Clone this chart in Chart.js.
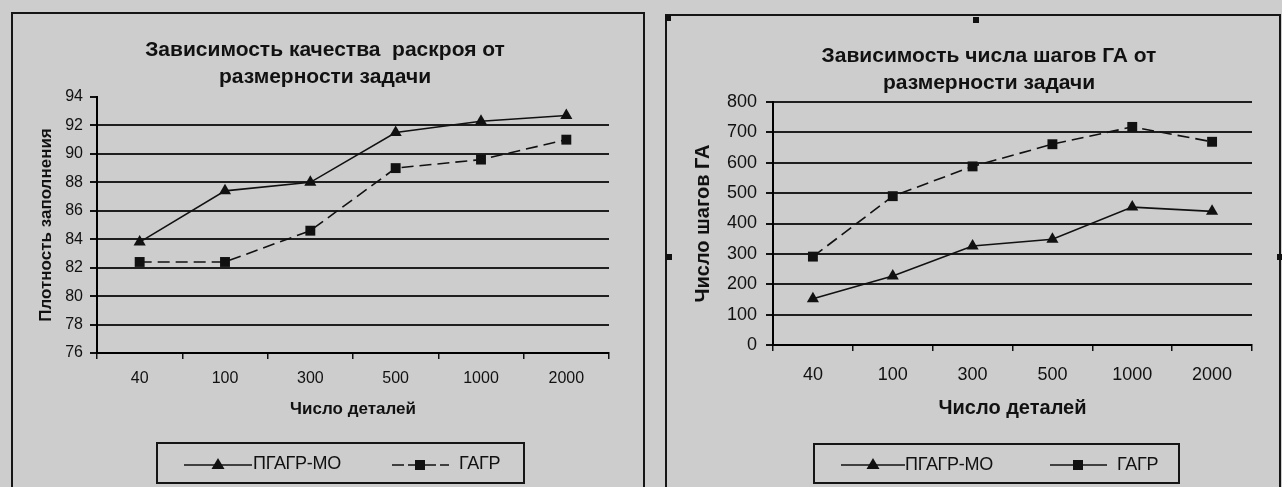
<!DOCTYPE html>
<html>
<head>
<meta charset="utf-8">
<script src="https://cdn.jsdelivr.net/npm/chart.js@4.4.1/dist/chart.umd.min.js"></script>
<style>
  body { margin: 0; width: 1282px; height: 487px; overflow: hidden; position: relative;
         background: #cdcdcd; font-family: "Liberation Sans", Arial, sans-serif; }
  .frame { position: absolute; border: 2px solid #151515; box-sizing: border-box; }
  .handle { position: absolute; width: 6px; height: 6px; background: #111; }
  canvas { position: absolute; }
  .legend { position: absolute; border: 2px solid #151515; box-sizing: border-box; }
  .legend svg, .legend span { position: absolute; }
  .legend span { font-size: 18px; line-height: 20px; color: #111; top: 9px; letter-spacing: -0.3px; }
</style>
</head>
<body>
<div class="frame" style="left:11px;top:12px;width:634px;height:490px"></div>
<div class="frame" style="left:665px;top:14px;width:616px;height:490px"></div>
<div class="handle" style="left:665px;top:15px"></div>
<div class="handle" style="left:973px;top:17px"></div>
<div class="handle" style="left:666px;top:254px"></div>
<div class="handle" style="left:1277px;top:254px"></div>

<canvas id="density" width="628" height="474" style="left:11px;top:13px"></canvas>
<canvas id="steps" width="648" height="473" style="left:665px;top:14px"></canvas>

<div class="legend" style="left:156px;top:442px;width:369px;height:42px">
  <svg style="left:26px;top:12px" width="68" height="16">
    <line x1="0" y1="9" x2="68" y2="9" stroke="#111" stroke-width="1.5"/>
    <polygon points="34,2 40.5,13 27.5,13" fill="#111"/>
  </svg>
  <span style="left:95px">ПГАГР-МО</span>
  <svg style="left:234px;top:12px" width="57" height="16">
    <line x1="0" y1="9" x2="57" y2="9" stroke="#111" stroke-width="1.5" stroke-dasharray="12,4"/>
    <rect x="23" y="4" width="10" height="10" fill="#111"/>
  </svg>
  <span style="left:301px">ГАГР</span>
</div>

<div class="legend" style="left:813px;top:443px;width:367px;height:41px">
  <svg style="left:26px;top:11px" width="64" height="16">
    <line x1="0" y1="9" x2="64" y2="9" stroke="#111" stroke-width="1.5"/>
    <polygon points="32,2 38.5,13 25.5,13" fill="#111"/>
  </svg>
  <span style="left:90px">ПГАГР-МО</span>
  <svg style="left:235px;top:11px" width="57" height="16">
    <line x1="0" y1="9" x2="57" y2="9" stroke="#111" stroke-width="1.5"/>
    <rect x="23" y="4" width="10" height="10" fill="#111"/>
  </svg>
  <span style="left:302px">ГАГР</span>
</div>

<script>
// Два графика: плотность заполнения и число шагов ГА от числа деталей
const parts = ['40', '100', '300', '500', '1000', '2000'];

// плотность заполнения, %
const densityPgagr = [83.8, 87.4, 88.0, 91.5, 92.3, 92.7];
const densityGagr = [82.4, 82.4, 84.6, 89.0, 89.6, 91.0];
const densityTicks = [76, 78, 80, 82, 84, 86, 88, 90, 92, 94];

// число шагов ГА
const stepsPgagr = [152, 227, 326, 348, 454, 440];
const stepsGagr = [291, 490, 588, 661, 718, 669];
const stepsTicks = [0, 100, 200, 300, 400, 500, 600, 700, 800];

const FONT = '"Liberation Sans", Arial, sans-serif';
const INK = '#111';

Chart.defaults.font.family = FONT;
Chart.defaults.color = INK;
Chart.defaults.animation = false;

function series(label, data, style, dashed) {
  return {
    label: label,
    data: data,
    borderColor: INK,
    backgroundColor: INK,
    borderWidth: 1.6,
    borderDash: dashed ? [12, 6] : [],
    pointStyle: style,
    pointRadius: 7,
    pointBorderWidth: 0,
    tension: 0
  };
}

// padLeft сдвигает заголовок диаграммы; ширина оси y компенсирует сдвиг
function makeChart(id, cfg) {
  return new Chart(document.getElementById(id), {
    type: 'line',
    data: {
      labels: parts,
      datasets: [
        series('ПГАГР-МО', cfg.pgagr, 'triangle', false),
        series('ГАГР', cfg.gagr, 'rect', true)
      ]
    },
    options: {
      responsive: false,
      layout: { padding: { left: cfg.padLeft, right: cfg.padRight, top: 0, bottom: cfg.padBottom } },
      plugins: {
        legend: { display: false },
        tooltip: { enabled: false },
        title: {
          display: true,
          text: cfg.title,
          color: INK,
          font: { size: 21, weight: 'bold', lineHeight: '27px' },
          padding: cfg.titlePad
        }
      },
      scales: {
        x: {
          offset: true,
          grid: { offset: true, drawOnChartArea: false, tickLength: 6, color: INK, lineWidth: 1.5 },
          border: { color: '#000', width: 2 },
          ticks: { font: { size: cfg.tickSize }, padding: cfg.xTickPad, maxRotation: 0 },
          title: { display: true, text: 'Число деталей', font: { size: cfg.xTitleSize, weight: 'bold' },
                   padding: { top: 0, bottom: cfg.xTitlePad } },
          afterFit: s => { s.height = cfg.xHeight; }
        },
        y: {
          min: cfg.ticks[0],
          max: cfg.ticks[cfg.ticks.length - 1],
          afterBuildTicks: s => { s.ticks = cfg.ticks.map(v => ({ value: v })); },
          grid: {
            color: c => (c.tick && c.tick.value === cfg.hideGridAt) ? 'rgba(0,0,0,0)' : '#1f1f1f',
            tickColor: INK,
            lineWidth: 2,
            tickLength: 7
          },
          border: { color: '#000', width: 2 },
          ticks: { font: { size: cfg.tickSize }, padding: cfg.yTickPad },
          title: { display: true, text: cfg.yTitle, font: { size: cfg.yTitleSize, weight: 'bold' },
                   padding: { top: cfg.yTitlePad, bottom: 0 } },
          afterFit: s => { s.width = cfg.yWidth; }
        }
      }
    }
  });
}

makeChart('density', {
  pgagr: densityPgagr,
  gagr: densityGagr,
  ticks: densityTicks,
  hideGridAt: 94,
  title: ['Зависимость качества  раскроя от', 'размерности задачи'],
  titlePad: { top: 23.5, bottom: 6.5 },
  tickSize: 16,
  yTitle: 'Плотность заполнения',
  yTitleSize: 17,
  yTitlePad: -5,
  yWidth: 56,
  yTickPad: 7,
  xTitleSize: 17,
  xHeight: 70,
  xTickPad: 10,
  xTitlePad: 3,
  padLeft: 30,
  padRight: 30,
  padBottom: 64
});

makeChart('steps', {
  pgagr: stepsPgagr,
  gagr: stepsGagr,
  ticks: stepsTicks,
  hideGridAt: null,
  title: ['Зависимость числа шагов ГА от', 'размерности задачи'],
  titlePad: { top: 28.5, bottom: 5.5 },
  tickSize: 18,
  yTitle: 'Число шагов ГА',
  yTitleSize: 20,
  yTitlePad: -35,
  yWidth: 47,
  yTickPad: 9,
  xTitleSize: 20,
  xHeight: 78,
  xTickPad: 13,
  xTitlePad: 3,
  padLeft: 61,
  padRight: 61,
  padBottom: 64
});
</script>
</body>
</html>
